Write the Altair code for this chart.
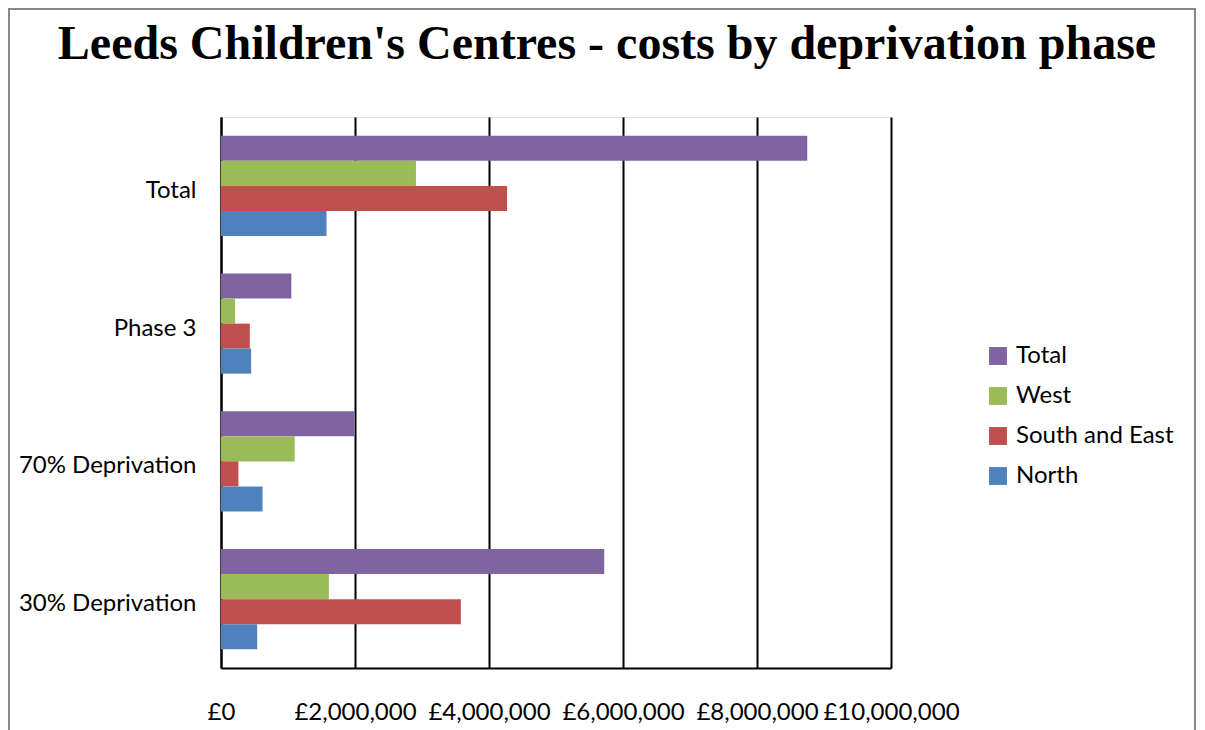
import altair as alt
import pandas as pd

categories = ["Total", "Phase 3", "70% Deprivation", "30% Deprivation"]
series = ["Total", "West", "South and East", "North"]
colors = ["#8064A2", "#9BBB59", "#C0504D", "#4F81BD"]

total_vals = [8750000, 1050000, 1990000, 5720000]
west_vals = [2910000, 210000, 1100000, 1610000]
south_east_vals = [4270000, 430000, 260000, 3580000]
north_vals = [1575000, 450000, 620000, 540000]

x_ticks = [0, 2000000, 4000000, 6000000, 8000000, 10000000]
title_text = "Leeds Children's Centres - costs by deprivation phase"

rows = []
for s, vals in zip(series, [total_vals, west_vals, south_east_vals, north_vals]):
    for c, v in zip(categories, vals):
        rows.append({"category": c, "series": s, "value": v})
df = pd.DataFrame(rows)

PW, PH = 670, 551
FONT = "Lato"

bars = alt.Chart(df).mark_bar().encode(
    y=alt.Y("category:N", sort=categories,
            scale=alt.Scale(paddingInner=0.274, paddingOuter=0.137),
            axis=alt.Axis(title=None, ticks=False, labelPadding=25, labelOffset=5,
                          labelFontSize=24, labelFont=FONT, labelColor="#000",
                          domainColor="#000", domainWidth=2, grid=False)),
    yOffset=alt.YOffset("series:N", sort=series),
    x=alt.X("value:Q", scale=alt.Scale(domain=[0, 10000000], nice=False),
            axis=alt.Axis(title=None, values=x_ticks, ticks=False,
                          labelExpr="'£' + format(datum.value, ',')",
                          labelOverlap=False, labelFlush=False,
                          labelPadding=32, labelFontSize=24, labelFont=FONT,
                          labelColor="#000", domainColor="#000", domainWidth=2,
                          grid=True, gridColor="#000", gridWidth=2)),
    color=alt.Color("series:N", sort=series,
                    scale=alt.Scale(domain=series, range=colors),
                    legend=alt.Legend(title=None, orient="none",
                                      legendX=765, legendY=227,
                                      symbolType="square", symbolSize=320,
                                      symbolStrokeWidth=0,
                                      labelFontSize=24, labelFont=FONT,
                                      labelColor="#000", rowPadding=16,
                                      labelOffset=6)),
)

frame = alt.Chart(pd.DataFrame({"a": [0]})).mark_rect(
    fill=None, stroke="#888888", strokeWidth=2
).encode(
    x=alt.value(-212), x2=alt.value(974),
    y=alt.value(-108), y2=alt.value(640),
)

title = alt.Chart(pd.DataFrame({"t": [title_text]})).mark_text(
    font="Liberation Serif", fontSize=48, fontWeight="bold", color="#000",
    align="center", baseline="alphabetic"
).encode(
    text="t:N", x=alt.value(386), y=alt.value(-58),
)

chart = alt.layer(frame, title, bars).properties(
    width=PW, height=PH,
    autosize=alt.AutoSizeParams(type="none"),
    padding={"left": 213, "top": 109, "right": 306, "bottom": 62},
).configure_view(stroke="transparent", strokeWidth=0).configure(background="white")

chart.save("out.html", embed_options={"renderer": "svg", "actions": False})
